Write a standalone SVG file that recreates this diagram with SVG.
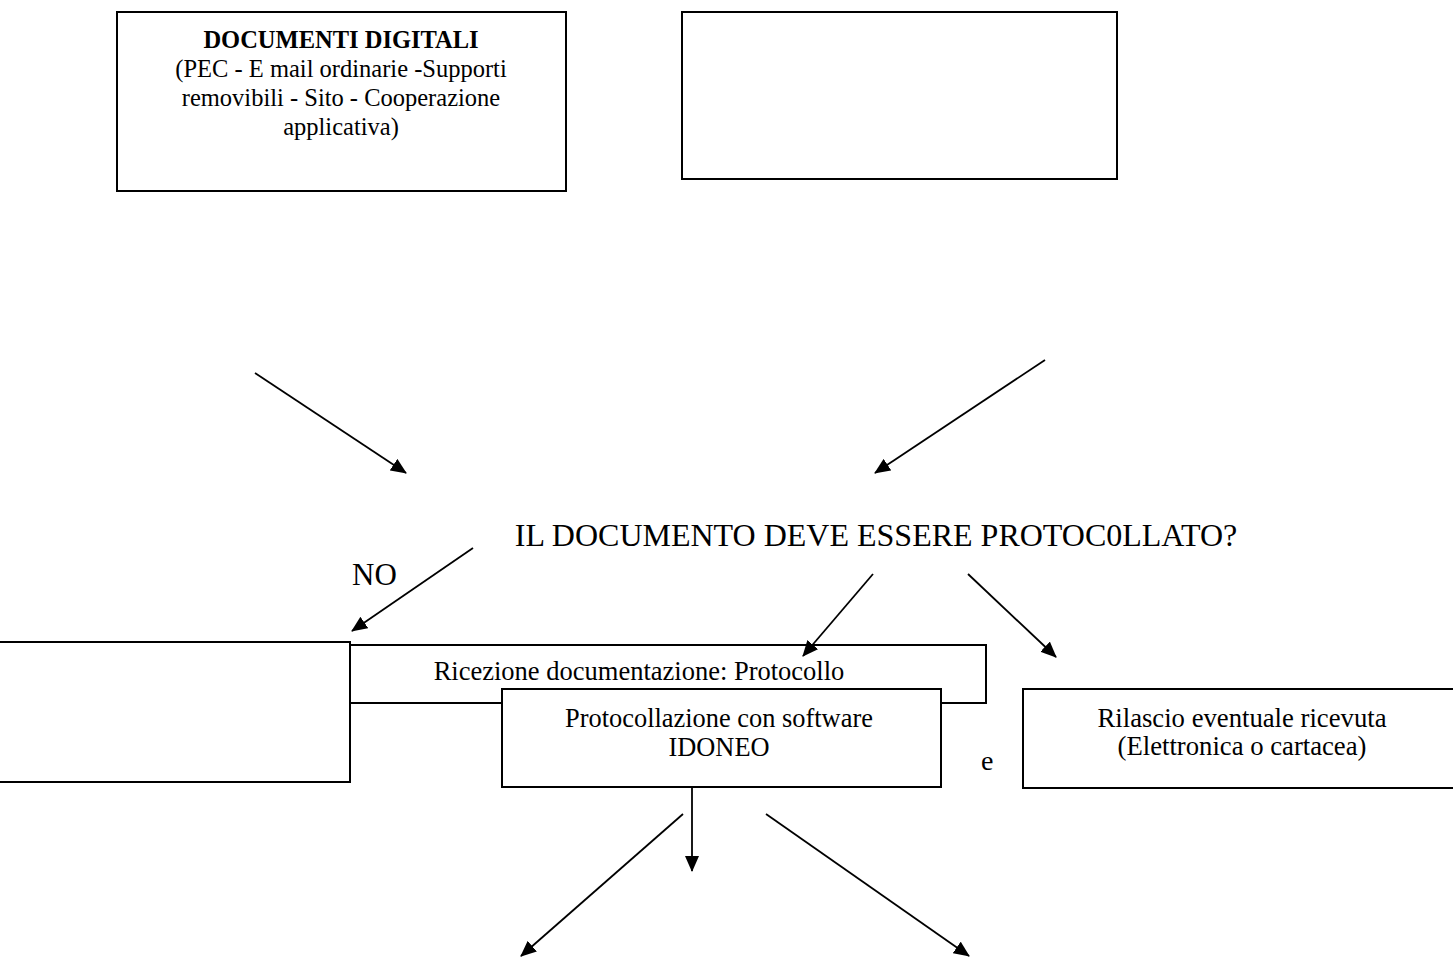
<svg xmlns="http://www.w3.org/2000/svg" width="1453" height="958" viewBox="0 0 1453 958">
<defs>
<style>
.box{fill:#fff;stroke:#000;stroke-width:2}
.t{font-family:"Liberation Serif","Times New Roman",serif;fill:#000}
.c{stroke:#000;stroke-width:1.8;fill:none;marker-end:url(#ah)}
</style>
<marker id="ah" viewBox="0 0 16 14" refX="15" refY="7" markerWidth="16" markerHeight="14" markerUnits="userSpaceOnUse" orient="auto">
<path d="M0,0 L16,7 L0,14 z" fill="#000"/>
</marker>
</defs>
<rect width="1453" height="958" fill="#fff"/>
<g id="n-documenti-digitali">
<rect class="box" x="117" y="12" width="449" height="179"/>
<text class="t" x="341" y="48" font-size="24.5" text-anchor="middle" font-weight="bold">DOCUMENTI DIGITALI</text>
<text class="t" x="341" y="77" font-size="24.5" text-anchor="middle">(PEC - E mail ordinarie -Supporti</text>
<text class="t" x="341" y="106" font-size="24.5" text-anchor="middle">removibili - Sito - Cooperazione</text>
<text class="t" x="341" y="135" font-size="24.5" text-anchor="middle">applicativa)</text>
</g>
<g id="n-empty-top">
<rect class="box" x="682" y="12" width="435" height="167"/>
</g>
<g id="n-question">
<text class="t" x="876" y="546" font-size="32" text-anchor="middle">IL DOCUMENTO DEVE ESSERE PROTOC0LLATO?</text>
</g>
<g id="n-no-label">
<text class="t" x="352" y="585" font-size="31">NO</text>
</g>
<g id="n-left">
<rect class="box" x="-2" y="642" width="352" height="140"/>
</g>
<g id="n-ricezione">
<rect class="box" x="350" y="645" width="636" height="58"/>
<text class="t" x="639" y="680" font-size="26.5" text-anchor="middle">Ricezione documentazione: Protocollo</text>
</g>
<g id="n-protocollazione">
<rect class="box" x="502" y="689" width="439" height="98"/>
<text class="t" x="719" y="727" font-size="26.4" text-anchor="middle">Protocollazione con software</text>
<text class="t" x="719" y="756" font-size="26.4" text-anchor="middle">IDONEO</text>
</g>
<g id="n-e-label">
<text class="t" x="981" y="770" font-size="28">e</text>
</g>
<g id="n-rilascio">
<rect class="box" x="1023" y="689" width="432" height="99"/>
<text class="t" x="1242" y="727" font-size="26.7" text-anchor="middle">Rilascio eventuale ricevuta</text>
<text class="t" x="1242" y="755" font-size="26.7" text-anchor="middle">(Elettronica o cartacea)</text>
</g>
<g id="connectors">
<line class="c" x1="255" y1="373" x2="406" y2="473"/>
<line class="c" x1="1045" y1="360" x2="875" y2="473"/>
<line class="c" x1="473" y1="548" x2="352" y2="631"/>
<line class="c" x1="873" y1="574" x2="803" y2="656"/>
<line class="c" x1="968" y1="574" x2="1056" y2="657"/>
<line class="c" x1="692" y1="786" x2="692" y2="871"/>
<line class="c" x1="683" y1="814" x2="521" y2="956"/>
<line class="c" x1="766" y1="814" x2="969" y2="956"/>
</g>
</svg>
